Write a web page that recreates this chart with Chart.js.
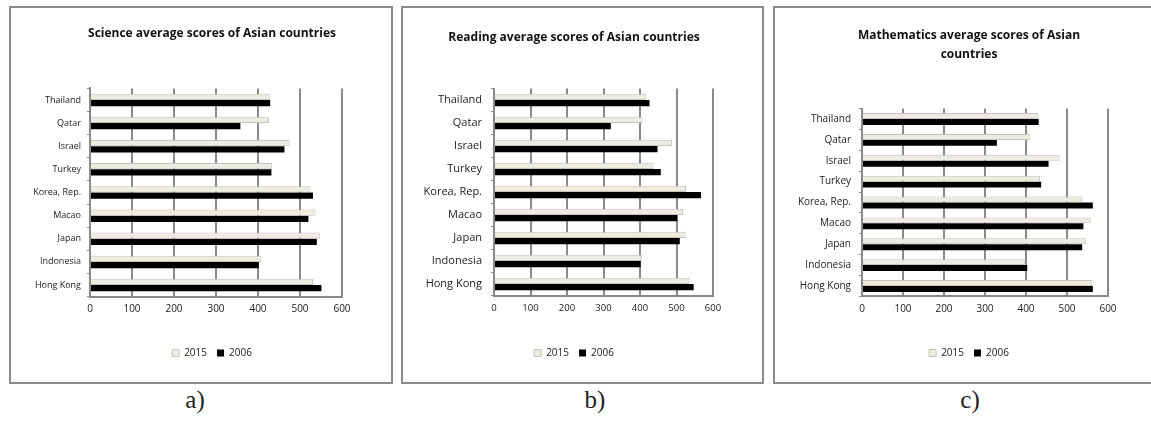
<html>
<head>
    <script src="https://cdn.jsdelivr.net/npm/chart.js@4.4.0/dist/chart.umd.min.js"></script>
    <style>
        body {
            margin: 0;
            width: 1151px;
            height: 423px;
            overflow: hidden;
            background: #fff;
            position: relative;
        }

        .frame {
            position: absolute;
            top: 6px;
            height: 378px;
            border: 2px solid #8c8c8c;
            box-sizing: border-box;
            background: #fff;
        }

        .caption {
            position: absolute;
            top: 386px;
            width: 60px;
            text-align: center;
            font-family: "Liberation Serif", serif;
            font-size: 25px;
            color: #222;
        }
    </style>
</head>

<body>
    <div class="frame" style="left:9px;width:384px"><canvas id="science" width="380" height="374"></canvas></div>
    <div class="frame" style="left:401px;width:363px"><canvas id="reading" width="359" height="374"></canvas></div>
    <div class="frame" style="left:773px;width:380px"><canvas id="maths" width="376" height="374"></canvas></div>
    <div class="caption" style="left:165px">a)</div>
    <div class="caption" style="left:565px">b)</div>
    <div class="caption" style="left:940px">c)</div>

    <script>
        var countries = ['Thailand', 'Qatar', 'Israel', 'Turkey', 'Korea, Rep.', 'Macao', 'Japan', 'Indonesia', 'Hong Kong'];
        var xTicks = [0, 100, 200, 300, 400, 500, 600];

        var science2015 = [428, 426, 475, 433, 525, 537, 547, 408, 531];
        var science2006 = [429, 358, 463, 432, 531, 520, 540, 402, 551];

        var reading2015 = [417, 407, 488, 437, 526, 518, 525, 405, 536];
        var reading2006 = [426, 320, 448, 457, 567, 502, 509, 402, 547];

        var maths2015 = [429, 411, 482, 434, 537, 558, 547, 397, 562];
        var maths2006 = [431, 329, 455, 437, 563, 540, 537, 403, 563];

        var font = '"Open Sans", sans-serif';
        var grey = '#8a8a8a';

        function makeChart(id, title, a2015, a2006, o) {
            var ctx = document.getElementById(id).getContext('2d');
            return new Chart(ctx, {
                type: 'bar',
                data: {
                    labels: countries,
                    datasets: [{
                        label: '2015',
                        data: a2015,
                        backgroundColor: '#eeece1',
                        borderColor: '#c4c3bb',
                        borderWidth: 1,
                        borderSkipped: 'left'
                    }, {
                        label: '2006',
                        data: a2006,
                        backgroundColor: '#000',
                        borderColor: '#000',
                        borderWidth: 0
                    }]
                },
                options: {
                    indexAxis: 'y',
                    responsive: false,
                    animation: false,
                    devicePixelRatio: 1,
                    categoryPercentage: o.cat,
                    barPercentage: 1,
                    layout: {
                        padding: { left: o.pl, right: o.pr, top: 0, bottom: 14 }
                    },
                    plugins: {
                        title: {
                            display: true,
                            text: title,
                            color: '#111',
                            font: { family: font, size: 12, weight: 'bold', lineHeight: o.tlh },
                            padding: { top: o.tt, bottom: o.tb }
                        },
                        legend: {
                            position: 'bottom',
                            labels: {
                                boxWidth: 7,
                                boxHeight: 7,
                                padding: 10,
                                color: '#222',
                                font: { family: font, size: 10 }
                            }
                        },
                        tooltip: { enabled: false }
                    },
                    scales: {
                        x: {
                            min: 0,
                            max: 600,
                            afterBuildTicks: function(s) {
                                s.ticks = xTicks.map(function(v) { return { value: v }; });
                            },
                            afterFit: function(s) { s.height = o.xh; },
                            grid: { color: grey, lineWidth: 2, drawTicks: false },
                            border: { color: grey, width: 2 },
                            ticks: {
                                padding: o.xp,
                                color: '#222',
                                font: { family: font, size: o.xf }
                            }
                        },
                        y: {
                            afterFit: function(s) { s.width = o.yw; },
                            grid: { drawOnChartArea: false, color: grey, lineWidth: 1, tickLength: 3 },
                            border: { color: grey, width: 2 },
                            ticks: {
                                padding: o.yp,
                                color: '#222',
                                font: { family: font, size: o.yf }
                            }
                        },
                        // empty space on the right of the plot
                        yRight: {
                            type: 'category',
                            axis: 'y',
                            position: 'right',
                            afterFit: function(s) { s.width = o.rw; },
                            grid: { display: false },
                            border: { display: false },
                            ticks: { display: false }
                        }
                    }
                }
            });
        }

        makeChart('science', 'Science average scores of Asian countries', science2015, science2006,
            { pl: 22, pr: 0, yw: 57, rw: 49, tt: 18.8, tb: 47.2, tlh: 1.2, xh: 41.4, xp: 6.4, xf: 10, yp: 6, yf: 9, cat: 0.54 });
        makeChart('reading', 'Reading average scores of Asian countries', reading2015, reading2006,
            { pl: 0, pr: 17, yw: 91, rw: 32, tt: 22.8, tb: 43.3, tlh: 1.2, xh: 42.5, xp: 6.8, xf: 9.5, yp: 9, yf: 11, cat: 0.54 });
        makeChart('maths', ['Mathematics average scores of Asian', 'countries'], maths2015, maths2006,
            { pl: 12, pr: 0, yw: 75, rw: 43, tt: 18.5, tb: 44.1, tlh: 1.583, xh: 41.6, xp: 6.6, xf: 10, yp: 8, yf: 10, cat: 0.57 });
    </script>
</body>
</html>
